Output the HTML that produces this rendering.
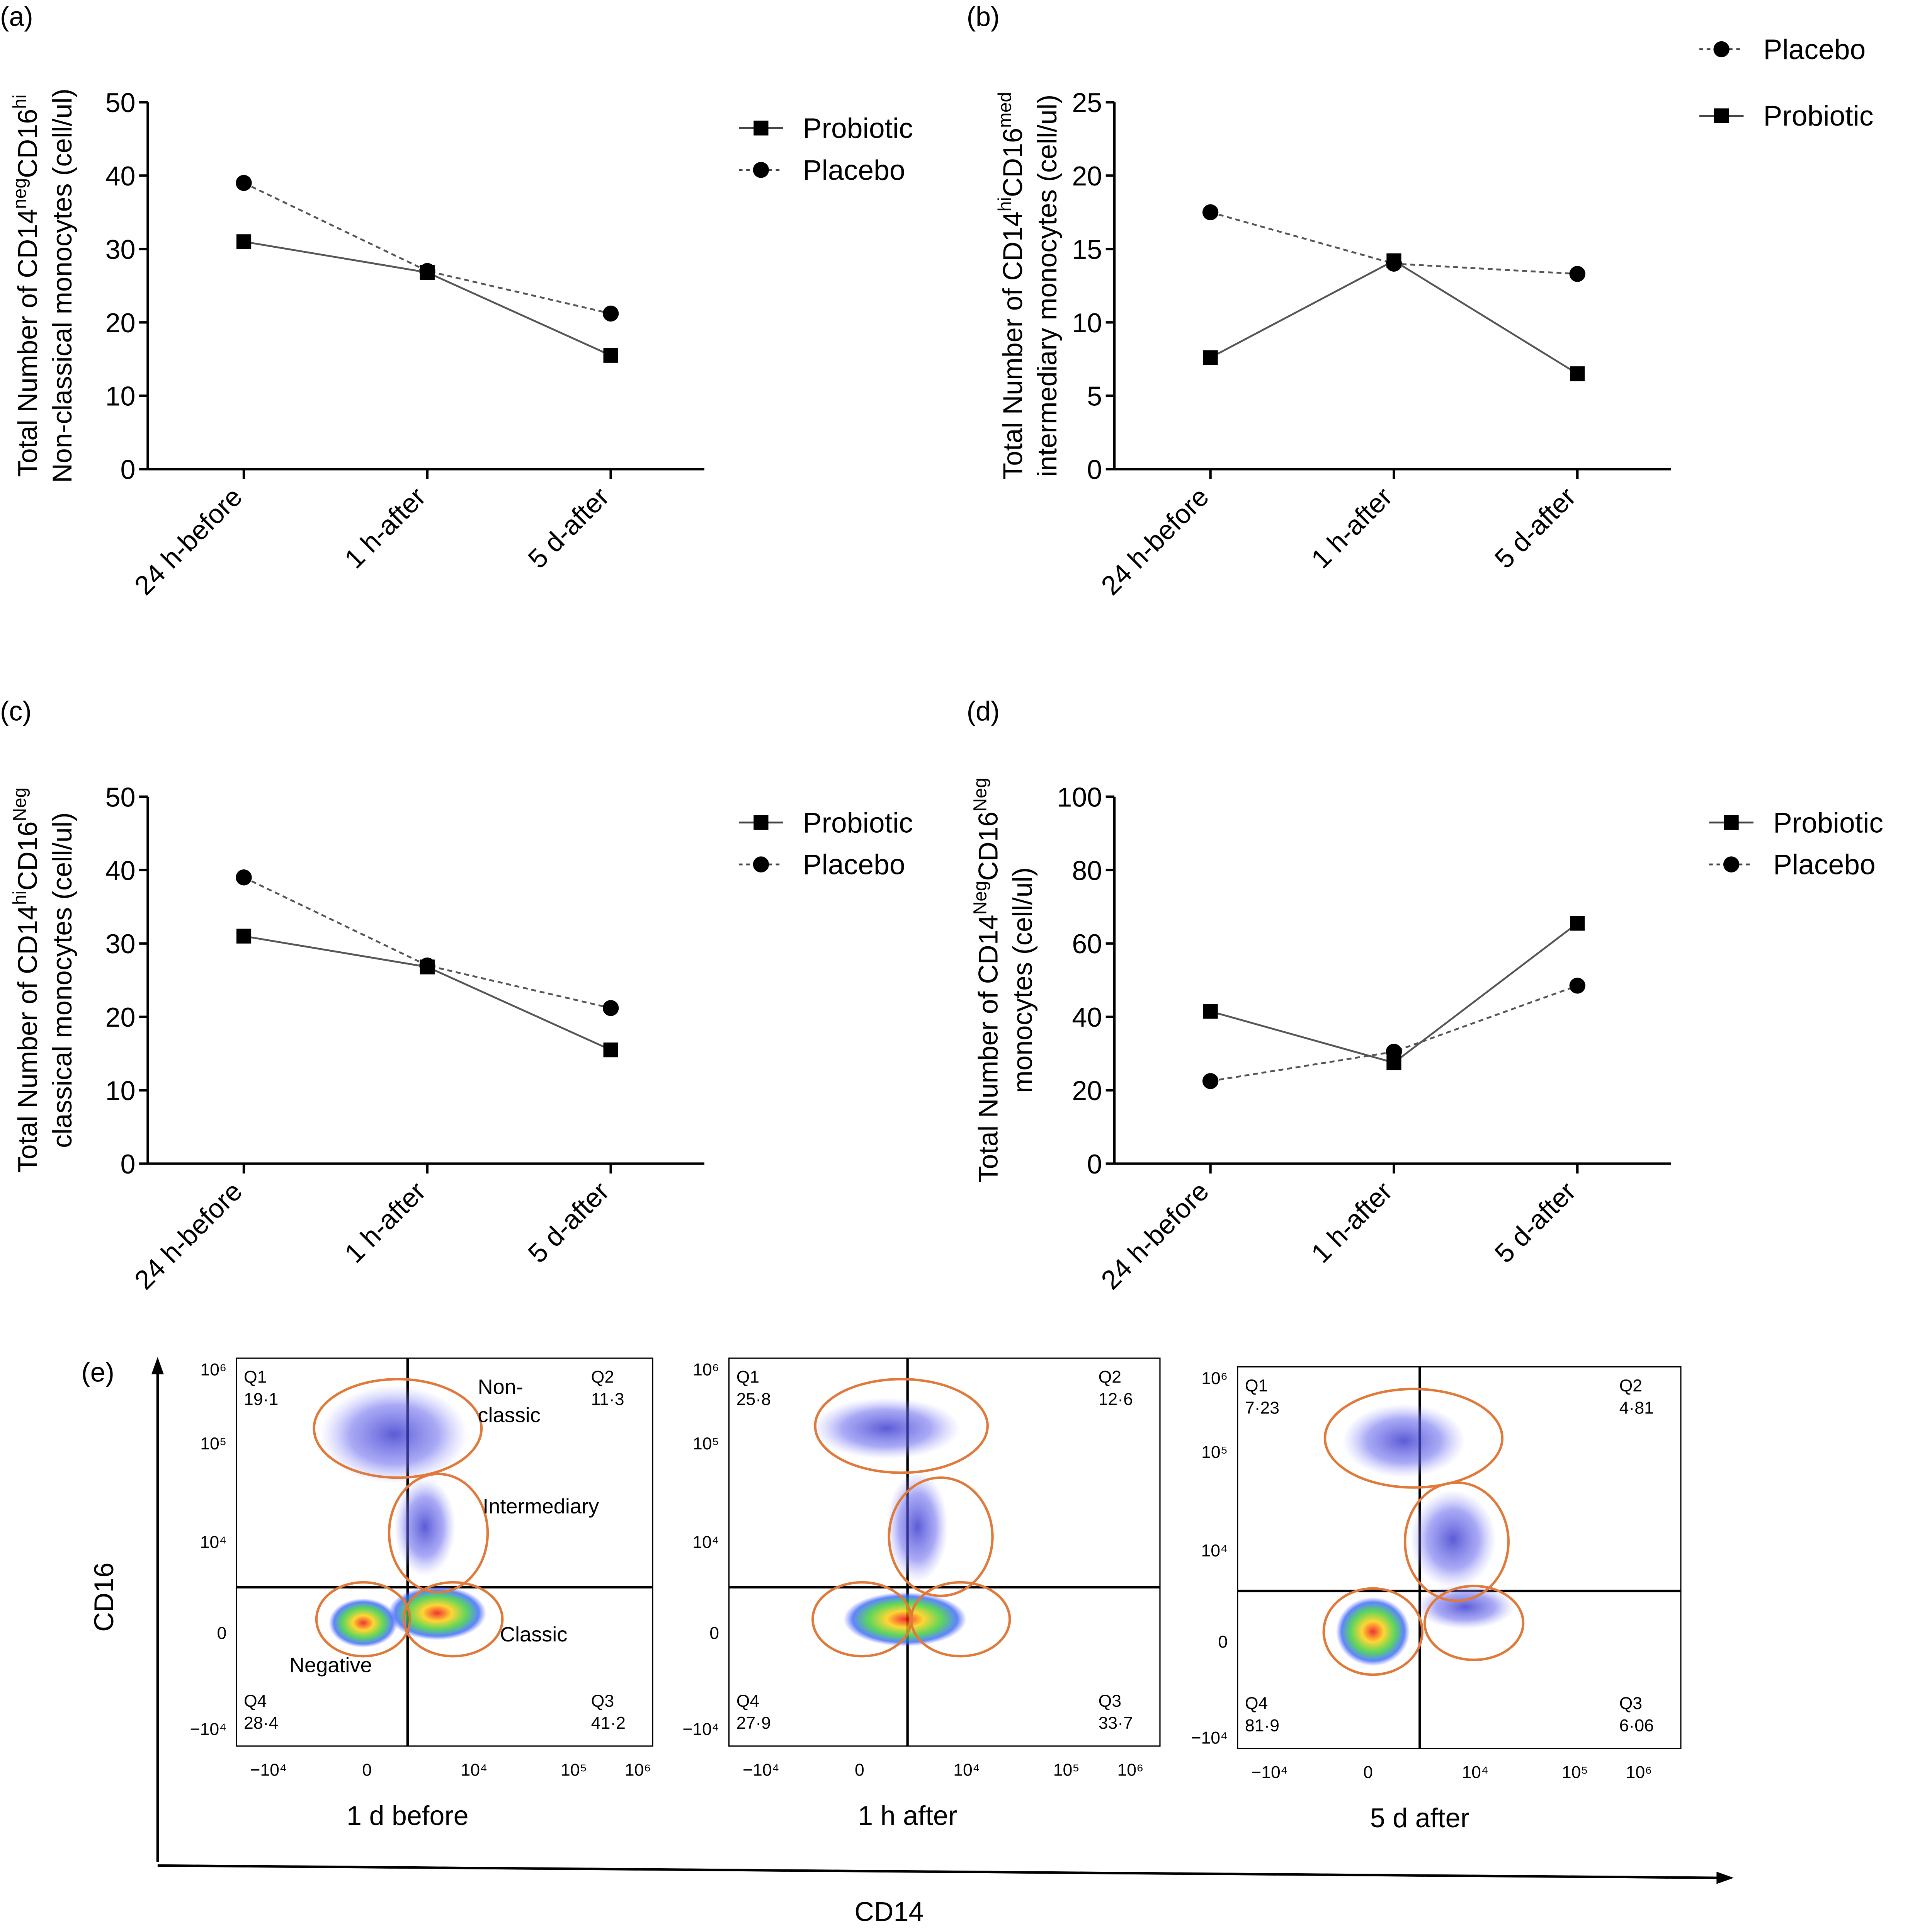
<!DOCTYPE html>
<html><head><meta charset="utf-8"><style>
html,body{margin:0;padding:0;background:#fff;overflow:hidden}
svg{display:block;font-family:"Liberation Sans",sans-serif}
</style></head><body>
<svg id="root" width="5204" height="5323" viewBox="0 0 1633 1670" preserveAspectRatio="xMinYMin meet" xmlns="http://www.w3.org/2000/svg">
<defs>
<radialGradient id="hot"><stop offset="0" stop-color="#e00"/><stop offset="0.3" stop-color="#fc0"/><stop offset="0.6" stop-color="#3c3"/><stop offset="0.85" stop-color="#36f"/><stop offset="1" stop-color="#66f" stop-opacity="0"/></radialGradient>
<radialGradient id="blue"><stop offset="0" stop-color="#33c"/><stop offset="0.6" stop-color="#66e" stop-opacity="0.7"/><stop offset="1" stop-color="#99f" stop-opacity="0"/></radialGradient>
</defs>
</svg>
<script>
const categories=["24 h-before","1 h-after","5 d-after"];
const aProbiotic=[31,26.8,15.5], aPlacebo=[39,27,21.2];
const bProbiotic=[7.6,14.2,6.5], bPlacebo=[17.5,14,13.3];
const cProbiotic=[31,26.8,15.5], cPlacebo=[39,27,21.2];
const dProbiotic=[41.5,27.5,65.5], dPlacebo=[22.5,30.5,48.5];
const aTicks=[0,10,20,30,40,50], bTicks=[0,5,10,15,20,25], dTicks=[0,20,40,60,80,100];
const quadA=["19·1","11·3","41·2","28·4"], quadB=["25·8","12·6","33·7","27·9"], quadC=["7·23","4·81","6·06","81·9"];
const NS="http://www.w3.org/2000/svg", root=document.getElementById('root');
function el(tag,attrs,parent,txt){const e=document.createElementNS(NS,tag);for(const k in attrs)e.setAttribute(k,attrs[k]);if(txt!==undefined)e.textContent=txt;(parent||root).appendChild(e);return e;}
function panel(o){
  const g=el('g',{});
  
  
  const x0=o.ax, y0=o.y0, y1=o.y1, xEnd=o.ax+452, max=o.ticks[o.ticks.length-1];
  const ys=v=>y0-(v/max)*(y0-y1);
  const xs=i=>o.ax+78+i*149;
  el('text',{x:o.ax-120,y:o.y1-62,'font-size':22},g,o.letter);
  el('line',{x1:x0,y1:y1,x2:x0,y2:y0,stroke:'#000','stroke-width':2},g);
  el('line',{x1:x0,y1:y0,x2:xEnd,y2:y0,stroke:'#000','stroke-width':2},g);
  o.ticks.forEach(t=>{const y=ys(t);el('line',{x1:x0-7,y1:y,x2:x0,y2:y,stroke:'#000','stroke-width':2},g);
    const tl=el('text',{x:x0-10,y:y+8,'font-size':22,'text-anchor':'end'},g,String(t));
    
    });
  categories.forEach((c,i)=>{const x=xs(i);el('line',{x1:x,y1:y0,x2:x,y2:y0+8,stroke:'#000','stroke-width':2},g);
    const tl=el('text',{x:x,y:y0+24,'font-size':22,'text-anchor':'end',transform:`rotate(-45 ${x} ${y0+24})`},g,c);
    
    });
  const yl=el('text',{transform:`translate(${o.ylx},${(y0+y1)/2}) rotate(-90)`,'font-size':22,'text-anchor':'middle'},g);
  
  
  el('tspan',{x:0,y:0},yl,o.yl1a);el('tspan',{dy:-9,'font-size':15},yl,o.s1);el('tspan',{dy:9},yl,o.yl1b);el('tspan',{dy:-9,'font-size':15},yl,o.s2);
  el('tspan',{x:0,y:28},yl,o.yl2);
  [[o.plac,'4 3','c'],[o.prob,'none','s']].forEach(([d,dash,m])=>{
    const pl=el('polyline',{points:d.map((v,i)=>xs(i)+','+ys(v)).join(' '),fill:'none',stroke:'#555','stroke-width':1.5,'stroke-dasharray':dash},g);
    
    
    d.forEach((v,i)=>{const mk=m=='s'?el('rect',{x:xs(i)-6,y:ys(v)-6,width:12,height:12,fill:'#000'},g):el('circle',{cx:xs(i),cy:ys(v),r:6.5,fill:'#000'},g);
      
      });
  });
  o.legend.forEach(([lab,y,m])=>{const lg=el('g',{},g);
    
    
    el('line',{x1:o.lx,y1:y,x2:o.lx+36,y2:y,stroke:'#444','stroke-width':1.5,'stroke-dasharray':m=='s'?'none':'3 3'},lg);
    if(m=='s')el('rect',{x:o.lx+12,y:y-6,width:12,height:12,fill:'#000'},lg);else el('circle',{cx:o.lx+18,cy:y,r:6.5,fill:'#000'},lg);
    el('text',{x:o.lx+52,y:y+8,'font-size':23},lg,lab);});
}
panel({name:'panel-a',letter:'(a)',ax:120,y0:381,y1:83,ticks:aTicks,prob:aProbiotic,plac:aPlacebo,ylx:30,yl1a:'Total Number of CD14',s1:'neg',yl1b:'CD16',s2:'hi',yl2:'Non-classical monocytes (cell/ul)',lx:600,legend:[['Probiotic',104,'s'],['Placebo',138,'c']]});
panel({name:'panel-b',letter:'(b)',ax:905,y0:381,y1:83,ticks:bTicks,prob:bProbiotic,plac:bPlacebo,ylx:830,yl1a:'Total Number of CD14',s1:'hi',yl1b:'CD16',s2:'med',yl2:'intermediary monocytes (cell/ul)',lx:1380,legend:[['Placebo',40,'c'],['Probiotic',94,'s']]});
panel({name:'panel-c',letter:'(c)',ax:120,y0:945,y1:647,ticks:aTicks,prob:cProbiotic,plac:cPlacebo,ylx:30,yl1a:'Total Number of CD14',s1:'hi',yl1b:'CD16',s2:'Neg',yl2:'classical monocytes (cell/ul)',lx:600,legend:[['Probiotic',668,'s'],['Placebo',702,'c']]});
panel({name:'panel-d',letter:'(d)',ax:905,y0:945,y1:647,ticks:dTicks,prob:dProbiotic,plac:dPlacebo,ylx:810,yl1a:'Total Number of CD14',s1:'Neg',yl1b:'CD16',s2:'Neg',yl2:'monocytes (cell/ul)',lx:1388,legend:[['Probiotic',668,'s'],['Placebo',702,'c']]});

el('text',{x:66,y:1122,'font-size':22},root,'(e)');
el('line',{x1:128,y1:1512,x2:128,y2:1112,stroke:'#000','stroke-width':2});
el('polygon',{points:'128,1102 123,1116 133,1116',fill:'#000'});
el('line',{x1:128,y1:1515,x2:1398,y2:1525,stroke:'#000','stroke-width':2});
el('polygon',{points:'1408,1525 1394,1520 1394,1530',fill:'#000'});
el('text',{transform:'translate(92,1297) rotate(-90)','font-size':22,'text-anchor':'middle'},root,'CD16');
el('text',{x:722,y:1560,'font-size':22,'text-anchor':'middle'},root,'CD14');
function flow(o){
  const g=el('g',{});
  
  
  const {x,y,w,h,qx,qy}=o;
  el('rect',{x:x,y:y,width:w,height:h,fill:'#fff',stroke:'#000','stroke-width':1},g);
  el('line',{x1:qx,y1:y,x2:qx,y2:y+h,stroke:'#000','stroke-width':2},g);
  el('line',{x1:x,y1:qy,x2:x+w,y2:qy,stroke:'#000','stroke-width':2},g);
  o.blobs.forEach(b=>el('ellipse',{cx:b[0],cy:b[1],rx:b[2],ry:b[3],fill:b[4]?'url(#hot)':'url(#blue)',opacity:0.8},g));
  o.ell.forEach(e=>el('ellipse',{cx:e[0],cy:e[1],rx:e[2],ry:e[3],fill:'none',stroke:'#e07a3a','stroke-width':2},g));
  const fs=14;
  el('text',{x:x+6,y:y+20,'font-size':fs},g,'Q1');el('text',{x:x+6,y:y+38,'font-size':fs},g,o.q[0]);
  el('text',{x:x+w-50,y:y+20,'font-size':fs},g,'Q2');el('text',{x:x+w-50,y:y+38,'font-size':fs},g,o.q[1]);
  el('text',{x:x+w-50,y:y+h-32,'font-size':fs},g,'Q3');el('text',{x:x+w-50,y:y+h-14,'font-size':fs},g,o.q[2]);
  el('text',{x:x+6,y:y+h-32,'font-size':fs},g,'Q4');el('text',{x:x+6,y:y+h-14,'font-size':fs},g,o.q[3]);
  [['10⁶',y+8],['10⁵',y+68],['10⁴',y+148],['0',y+222],['−10⁴',y+300]].forEach(t=>el('text',{x:x-8,y:t[1]+6,'font-size':14,'text-anchor':'end'},g,t[0]));
  [['−10⁴',x+26],['0',x+106],['10⁴',x+193],['10⁵',x+274],['10⁶',x+326]].forEach(t=>el('text',{x:t[1],y:y+h+24,'font-size':14,'text-anchor':'middle'},g,t[0]));
  el('text',{x:qx,y:y+h+64,'font-size':22,'text-anchor':'middle'},g,o.title);
  (o.labels||[]).forEach(l=>el('text',{x:l[0],y:l[1],'font-size':17},g,l[2]));
}
flow({name:'flow-1d-before',x:192,y:1103,w:338,h:315,qx:331,qy:1289,q:quadA,title:'1 d before',
 blobs:[[320,1165,60,40],[345,1240,25,40],[295,1318,28,20,1],[355,1310,40,22,1]],
 ell:[[323,1160,68,40],[356,1245,40,48],[295,1315,38,30],[368,1315,40,30]],
 labels:[[388,1132,'Non-'],[388,1155,'classic'],[392,1229,'Intermediary'],[406,1333,'Classic'],[235,1358,'Negative']]});
flow({name:'flow-1h-after',x:592,y:1103,w:350,h:315,qx:737,qy:1289,q:quadB,title:'1 h after',
 blobs:[[720,1160,60,25],[745,1240,25,45],[735,1315,50,22,1]],
 ell:[[732,1158,70,38],[764,1248,42,48],[700,1315,40,30],[780,1315,40,30]]});
flow({name:'flow-5d-after',x:1005,y:1110,w:360,h:310,qx:1153,qy:1292,q:quadC,title:'5 d after',
 blobs:[[1140,1170,50,30],[1180,1250,35,40],[1190,1305,40,18],[1115,1325,30,28,1]],
 ell:[[1148,1168,72,40],[1183,1252,42,48],[1115,1325,40,35],[1197,1318,40,30]]});
</script>
</body></html>
